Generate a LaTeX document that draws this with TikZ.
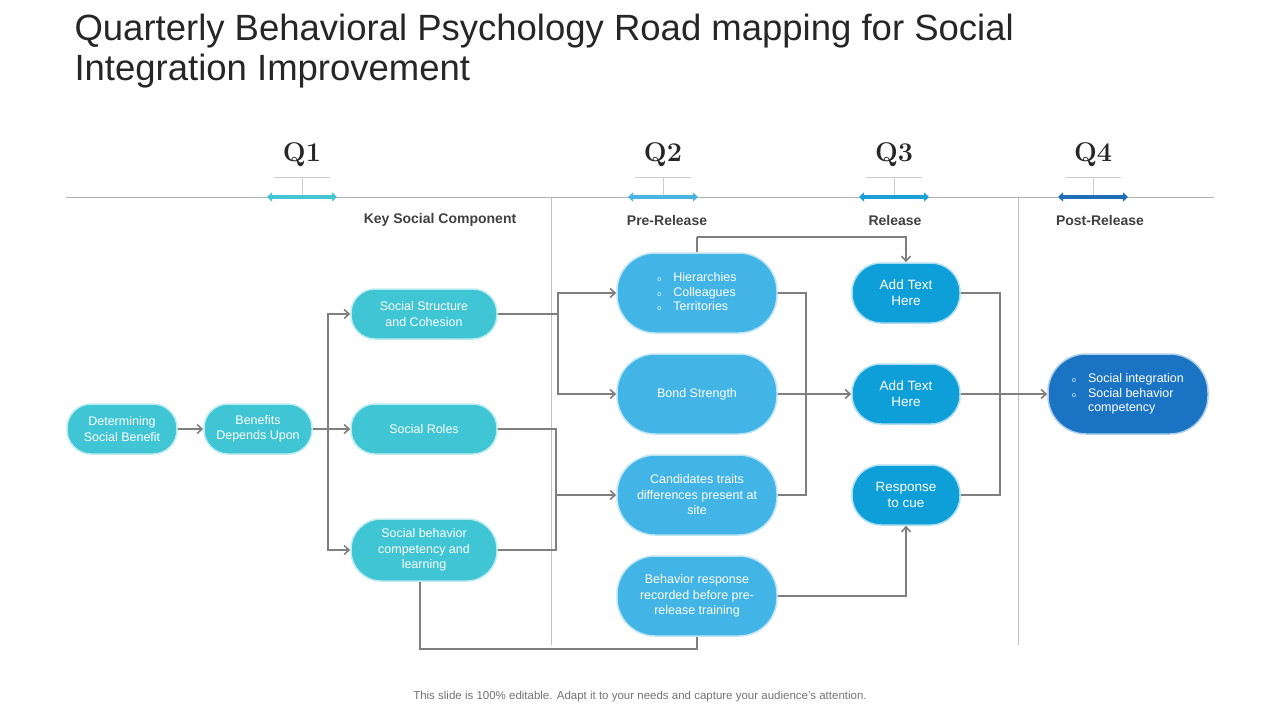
\documentclass[tikz,border=0pt]{standalone}
\usepackage{fontspec}
\setmainfont{Liberation Sans}
\newfontfamily\lmr{Latin Modern Roman}
\usetikzlibrary{arrows.meta}
\definecolor{teal1}{HTML}{3FC5D3}
\definecolor{blue1}{HTML}{42B4E6}
\definecolor{blue2}{HTML}{0E9ED8}
\definecolor{blue3}{HTML}{1A73C3}
\definecolor{ln}{HTML}{7F7F7F}
\definecolor{q1c}{HTML}{45C4D4}
\definecolor{q2c}{HTML}{4AB5E0}
\definecolor{q3c}{HTML}{1AA0D6}
\definecolor{q4c}{HTML}{1E6FB8}
\tikzset{
 box/.style={fill=#1, draw=#1!35!white, line width=1.5pt, text=white, align=center, font=\fontsize{12.5}{15.5}\selectfont, inner sep=2pt},
 sb/.style={box=teal1, minimum width=#1, minimum height=50, rounded corners=24},
 pb/.style={box=blue1, minimum width=160, minimum height=80, rounded corners=38},
 rb/.style={box=blue2, minimum width=108, minimum height=60, rounded corners=29, font=\fontsize{13.5}{16}\selectfont},
 con/.style={draw=ln, line width=1.6pt},
 arr/.style={con, -{Straight Barb[length=5pt,width=9pt]}},
 hdr/.style={font=\bfseries\fontsize{14}{16}\selectfont, text=black!75},
 qlab/.style={font=\lmr\bfseries\fontsize{27}{30}\selectfont, text=black!85},
 qarr/.style={line width=4pt, {Triangle[length=5pt,width=9pt]}-{Triangle[length=5pt,width=9pt]}, draw=#1}
}
\begin{document}
\begin{tikzpicture}[x=1pt,y=-1pt]
\useasboundingbox (0,0) rectangle (1280,720);
\node[anchor=west, align=left, font=\fontsize{36.5}{40}\selectfont, text=black!85] (title) at (71,51) {Quarterly Behavioral Psychology Road mapping for Social\\Integration Improvement};
\draw[black!30, line width=1pt] (66,197) -- (1214,197);
\draw[black!25, line width=0.8pt] (551,197) -- (551,645) (1018,197) -- (1018,645);
\foreach \x/\q/\c in {302/1/q1c,663/2/q2c,894/3/q3c,1093/4/q4c}{
  \node[qlab] (q\q) at (\x,155) {Q\q};
  \draw[black!20, line width=0.8pt] (\x-28,177) -- (\x+28,177) (\x,177) -- (\x,197);
  \draw[qarr=\c] (\x-35,197) -- (\x+35,197);
}
\node[hdr] (h1) at (440,220) {Key Social Component};
\node[hdr] (h2) at (667,220) {Pre-Release};
\node[hdr] (h3) at (895,220) {Release};
\node[hdr] (h4) at (1100,220) {Post-Release};

\node[sb=110] (n1) at (122,429) {Determining\\Social Benefit};
\node[sb=108] (n2) at (258,429) {Benefits\\Depends Upon};
\node[sb=146] (n3) at (424,314) {Social Structure\\and Cohesion};
\node[sb=146] (n4) at (424,429) {Social Roles};
\node[sb=146, minimum height=62, rounded corners=30] (n5) at (424,550) {Social behavior\\competency and\\learning};

\node[pb] (p1) at (697,293) {\begin{tabular}{@{}l@{\hspace{12pt}}l@{}}\scriptsize o & Hierarchies\\[-1pt] \scriptsize o & Colleagues\\[-1pt] \scriptsize o & Territories\end{tabular}};
\node[pb] (p2) at (697,394) {Bond Strength};
\node[pb] (p3) at (697,495) {Candidates traits\\differences present at\\site};
\node[pb] (p4) at (697,596) {Behavior response\\recorded before pre-\\release training};

\node[rb] (r1) at (906,293) {Add Text\\Here};
\node[rb] (r2) at (906,394) {Add Text\\Here};
\node[rb] (r3) at (906,495) {Response\\to cue};

\node[box=blue3, minimum width=160, minimum height=80, rounded corners=38] (f) at (1128,394) {\begin{tabular}{@{}l@{\hspace{12pt}}l@{}}\scriptsize o & Social integration\\[-1pt] \scriptsize o & Social behavior\\[-1pt] & competency\end{tabular}};

\draw[arr] (n1) -- (n2);
\coordinate (j1) at (328,429);
\draw[con] (n2) -- (j1);
\draw[arr] (j1) |- (n3);
\draw[arr] (j1) -- (n4);
\draw[arr] (j1) |- (n5);

\coordinate (j2) at (558,314);
\draw[con] (n3) -- (j2);
\draw[arr] (j2) |- (p1.west);
\draw[arr] (j2) |- (p2.west);

\coordinate (j3) at (556,495);
\draw[con] (n4.east) -| (j3);
\draw[con] (n5.east) -| (j3);
\draw[arr] (j3) -- (p3.west);

\coordinate (j4) at (806,394);
\draw[con] (p1.east) -| (j4);
\draw[con] (p3.east) -| (j4);
\draw[arr] (p2.east) -- (r2.west);

\coordinate (j5) at (697,237);
\draw[con] (p1.north) -- (j5);
\draw[arr] (j5) -| (r1.north);

\coordinate (j6) at (420,649);
\draw[con] (n5.south -| j6) -- (j6) -| (p4.south);

\draw[arr] (p4.east) -| (r3.south);

\coordinate (j7) at (1000,394);
\draw[con] (r1.east) -| (j7);
\draw[con] (r3.east) -| (j7);
\draw[arr] (r2.east) -- (f.west);

\node[font=\fontsize{11.5}{13}\selectfont, text=black!55] (foot) at (640,697) {This slide is 100\% editable. Adapt it to your needs and capture your audience's attention.};
\end{tikzpicture}
\end{document}
